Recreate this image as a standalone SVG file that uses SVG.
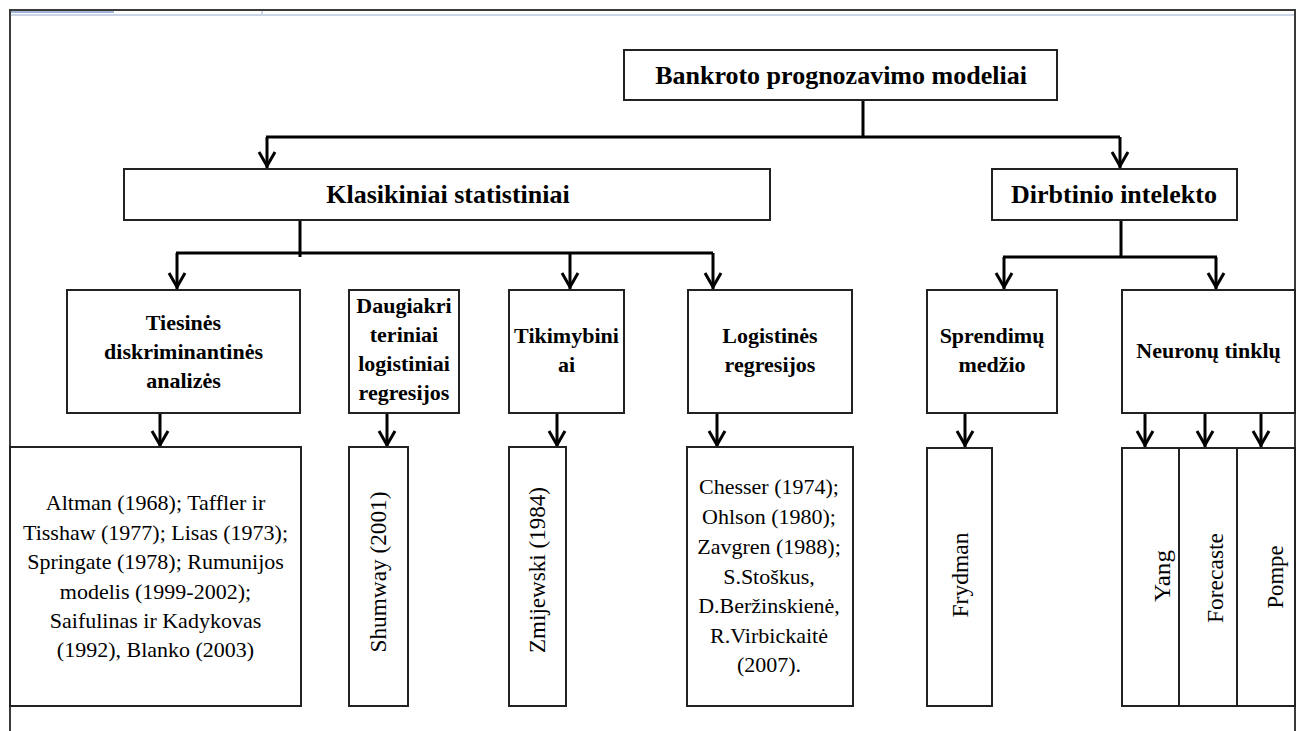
<svg xmlns="http://www.w3.org/2000/svg" width="1301" height="731" viewBox="0 0 1301 731">
  <style>
    .box { fill: #fff; stroke: #222; stroke-width: 2; }
    .conn { fill: none; stroke: #000; stroke-width: 3; }
    .t1 { font-family: "Liberation Serif", "Times New Roman", serif; font-weight: bold; font-size: 26px; fill: #000; text-anchor: middle; }
    .t2 { font-family: "Liberation Serif", "Times New Roman", serif; font-weight: bold; font-size: 22px; fill: #000; text-anchor: middle; }
    .t3 { font-family: "Liberation Serif", "Times New Roman", serif; font-size: 22px; fill: #000; text-anchor: middle; }
    .rot { font-family: "Liberation Serif", "Times New Roman", serif; font-size: 23px; fill: #000; text-anchor: middle; }
  </style>
  <defs>
    <marker id="arr" markerUnits="userSpaceOnUse" viewBox="-20 -12 24 24" refX="0" refY="0" markerWidth="24" markerHeight="24" orient="auto" overflow="visible">
      <path d="M-16,-8 L-2,0 L-16,8" fill="none" stroke="#000" stroke-width="3"/>
    </marker>
  </defs>

  <rect width="1301" height="731" fill="#fff"/>

  <!-- page frame -->
  <g id="frame">
    <line x1="11" y1="15" x2="1294" y2="15" stroke="#b9c9e0" stroke-width="1.5"/>
    <line x1="11" y1="12" x2="114" y2="12" stroke="#9fb4d6" stroke-width="2"/>
    <line x1="262" y1="11" x2="262" y2="14" stroke="#b9c9e0" stroke-width="1.5"/>
    <path d="M10,731 V10 H1295 V731" fill="none" stroke="#3a3a3a" stroke-width="2"/>
  </g>

  <!-- connectors -->
  <g id="connectors">
    <path class="conn" d="M863,100 V137 M266,137 H1120"/>
    <path class="conn" d="M267,137 V168" marker-end="url(#arr)"/>
    <path class="conn" d="M1120,137 V168" marker-end="url(#arr)"/>

    <path class="conn" d="M300,220 V257 M176,253 H713"/>
    <path class="conn" d="M177,253 V289" marker-end="url(#arr)"/>
    <path class="conn" d="M570,253 V289" marker-end="url(#arr)"/>
    <path class="conn" d="M713,253 V289" marker-end="url(#arr)"/>

    <path class="conn" d="M1121,220 V257 M1003,257 H1217"/>
    <path class="conn" d="M1004,257 V289" marker-end="url(#arr)"/>
    <path class="conn" d="M1216,257 V289" marker-end="url(#arr)"/>

    <path class="conn" d="M160,413 V447" marker-end="url(#arr)"/>
    <path class="conn" d="M387,413 V447" marker-end="url(#arr)"/>
    <path class="conn" d="M557,413 V447" marker-end="url(#arr)"/>
    <path class="conn" d="M717,413 V447" marker-end="url(#arr)"/>
    <path class="conn" d="M965,410 V447" marker-end="url(#arr)"/>
    <path class="conn" d="M1145,413 V447" marker-end="url(#arr)"/>
    <path class="conn" d="M1205,413 V447" marker-end="url(#arr)"/>
    <path class="conn" d="M1261,413 V447" marker-end="url(#arr)"/>
  </g>

  <!-- level 1 -->
  <g id="root">
    <rect class="box" x="624" y="50" width="433" height="50"/>
    <text class="t1" x="841" y="84">Bankroto prognozavimo modeliai</text>
  </g>

  <!-- level 2 -->
  <g id="klasikiniai">
    <rect class="box" x="124" y="169" width="646" height="51"/>
    <text class="t1" x="448" y="203">Klasikiniai statistiniai</text>
  </g>
  <g id="dirbtinio">
    <rect class="box" x="992" y="169" width="245" height="51"/>
    <text class="t1" x="1114" y="203">Dirbtinio intelekto</text>
  </g>

  <!-- level 3 -->
  <g id="tiesines">
    <rect class="box" x="67" y="290" width="233" height="123"/>
    <text class="t2" x="183.5" y="330">Tiesinės</text>
    <text class="t2" x="183.5" y="359">diskriminantinės</text>
    <text class="t2" x="183.5" y="388">analizės</text>
  </g>
  <g id="daugiakriteriniai">
    <rect class="box" x="349" y="290" width="110" height="123"/>
    <text class="t2" x="404" y="313">Daugiakri</text>
    <text class="t2" x="404" y="342">teriniai</text>
    <text class="t2" x="404" y="371">logistiniai</text>
    <text class="t2" x="404" y="400">regresijos</text>
  </g>
  <g id="tikimybiniai">
    <rect class="box" x="509" y="290" width="115" height="123"/>
    <text class="t2" x="566.5" y="343">Tikimybini</text>
    <text class="t2" x="566.5" y="372">ai</text>
  </g>
  <g id="logistines">
    <rect class="box" x="688" y="290" width="164" height="123"/>
    <text class="t2" x="770" y="343">Logistinės</text>
    <text class="t2" x="770" y="372">regresijos</text>
  </g>
  <g id="sprendimu">
    <rect class="box" x="927" y="290" width="130" height="123"/>
    <text class="t2" x="992" y="343">Sprendimų</text>
    <text class="t2" x="992" y="372">medžio</text>
  </g>
  <g id="neuronu">
    <rect class="box" x="1122" y="290" width="173" height="123"/>
    <text class="t2" x="1208.5" y="358">Neuronų tinklų</text>
  </g>

  <!-- level 4: authors -->
  <g id="altman">
    <rect class="box" x="10" y="447" width="291" height="259"/>
    <text class="t3" x="155.5" y="510">Altman (1968); Taffler ir</text>
    <text class="t3" x="155.5" y="540">Tisshaw (1977); Lisas (1973);</text>
    <text class="t3" x="155.5" y="569">Springate (1978); Rumunijos</text>
    <text class="t3" x="155.5" y="599">modelis (1999-2002);</text>
    <text class="t3" x="155.5" y="628">Saifulinas ir Kadykovas</text>
    <text class="t3" x="155.5" y="657">(1992), Blanko (2003)</text>
  </g>
  <g id="shumway">
    <rect class="box" x="349" y="447" width="59" height="259"/>
    <text class="rot" transform="translate(378,572) rotate(-90)" dy="0.33em" textLength="161" lengthAdjust="spacingAndGlyphs">Shumway (2001)</text>
  </g>
  <g id="zmijewski">
    <rect class="box" x="509" y="447" width="57" height="259"/>
    <text class="rot" transform="translate(537,570) rotate(-90)" dy="0.33em" textLength="166" lengthAdjust="spacingAndGlyphs">Zmijewski (1984)</text>
  </g>
  <g id="chesser">
    <rect class="box" x="687" y="447" width="166" height="259"/>
    <text class="t3" x="769" y="494">Chesser (1974);</text>
    <text class="t3" x="769" y="524">Ohlson (1980);</text>
    <text class="t3" x="769" y="554">Zavgren (1988);</text>
    <text class="t3" x="769" y="584">S.Stoškus,</text>
    <text class="t3" x="769" y="613">D.Beržinskienė,</text>
    <text class="t3" x="769" y="643">R.Virbickaitė</text>
    <text class="t3" x="769" y="672">(2007).</text>
  </g>
  <g id="frydman">
    <rect class="box" x="927" y="448" width="65" height="258"/>
    <text class="rot" transform="translate(960,575) rotate(-90)" dy="0.33em" textLength="85" lengthAdjust="spacingAndGlyphs">Frydman</text>
  </g>
  <g id="yang">
    <rect class="box" x="1122" y="448" width="57" height="258"/>
    <text class="rot" transform="translate(1162,576) rotate(-90)" dy="0.33em" textLength="52" lengthAdjust="spacingAndGlyphs">Yang</text>
  </g>
  <g id="forecaste">
    <rect class="box" x="1179" y="448" width="58" height="258"/>
    <text class="rot" transform="translate(1215,578) rotate(-90)" dy="0.33em" textLength="90" lengthAdjust="spacingAndGlyphs">Forecaste</text>
  </g>
  <g id="pompe">
    <rect class="box" x="1237" y="448" width="58" height="258"/>
    <text class="rot" transform="translate(1275,577) rotate(-90)" dy="0.33em" textLength="63" lengthAdjust="spacingAndGlyphs">Pompe</text>
  </g>
</svg>
